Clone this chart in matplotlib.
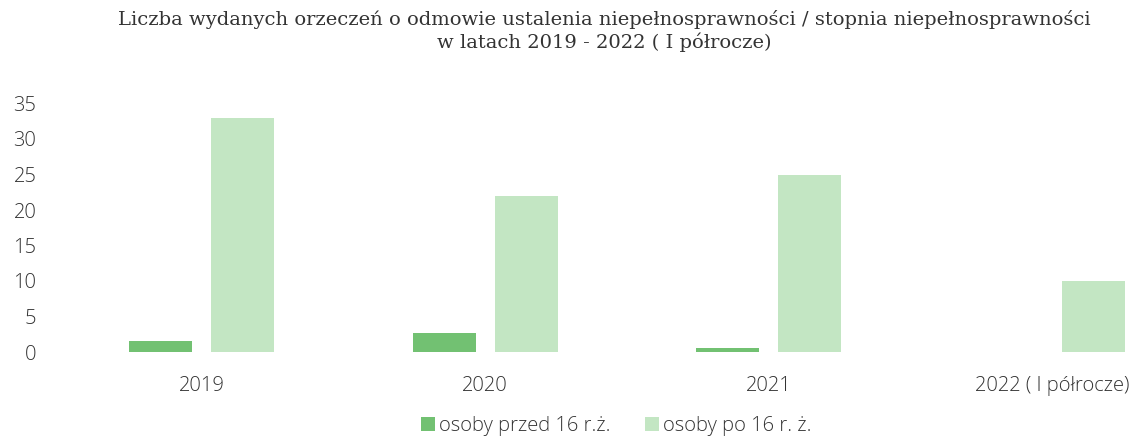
import matplotlib
matplotlib.use("Agg")
import matplotlib.pyplot as plt
import numpy as np

categories = ["2019", "2020", "2021", "2022 ( I półrocze)"]
przed_16 = [1.6, 2.7, 0.6, 0]
po_16 = [33, 22, 25, 10]
series_names = ["osoby przed 16 r.ż.", "osoby po 16 r. ż."]
yticks = [0, 5, 10, 15, 20, 25, 30, 35]
title = ("Liczba wydanych orzeczeń o odmowie ustalenia niepełnosprawności / stopnia niepełnosprawności\n"
         "w latach 2019 - 2022 ( I półrocze)")

plt.rcParams['font.family'] = ['Open Sans', 'DejaVu Sans']

fig = plt.figure(figsize=(11.33, 4.43), dpi=100)
ax = fig.add_axes([60/1133, (443-352)/443, 1134/1133, 248.5/443])

x = np.arange(len(categories))
w = 0.222
off = 0.144
dark = "#72c172"
light = "#c3e6c3"
ax.bar(x - off, przed_16, w, color=dark, label=series_names[0])
ax.bar(x + off, po_16, w, color=light, label=series_names[1])

ax.set_xlim(-0.5, len(categories) - 0.5)
ax.set_ylim(0, 35)
ax.set_yticks(yticks)
ax.set_xticks(x)
ax.set_xticklabels(categories)
for s in ax.spines.values():
    s.set_visible(False)
ax.tick_params(axis='both', length=0, labelsize=14.5, colors="#333333")
ax.tick_params(axis='y', pad=17)
ax.tick_params(axis='x', pad=17)
for lbl in ax.get_xticklabels() + ax.get_yticklabels():
    lbl.set_fontweight('light')

fig.text(0.533, 0.978, title, ha='center', va='top', fontsize=14,
         family=['DejaVu Serif'], color="#333333", linespacing=1.25)

fig.legend(loc='center', bbox_to_anchor=(0.544, 0.038), ncol=2, frameon=False,
           handlelength=0.72, handleheight=0.72, handletextpad=0.2,
           columnspacing=1.7, labelcolor="#333333", prop={'weight': 'light', 'size': 14.5})

fig.savefig("out.png", dpi=100)
